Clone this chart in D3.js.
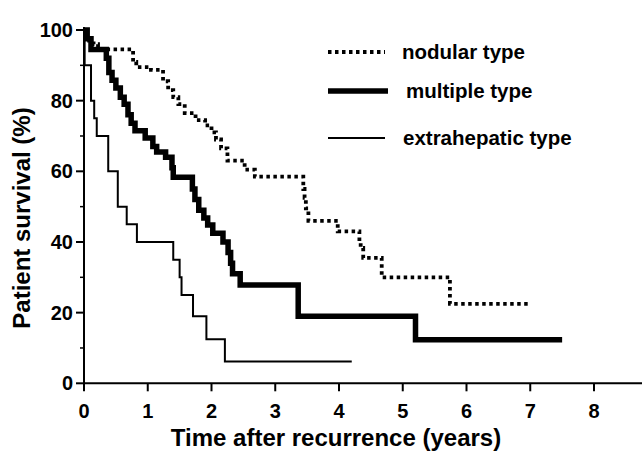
<!DOCTYPE html>
<html>
<head>
<meta charset="utf-8">
<script src="https://cdn.jsdelivr.net/npm/d3@7"></script>
<style>
  body { margin: 0; background: #fff; }
  svg { display: block; font-family: "Liberation Sans", Arial, sans-serif; font-weight: bold; }
</style>
</head>
<body>
<svg id="chart"></svg>
<script>
// Kaplan-Meier steps: time (years) of each drop and survival (%) after it
const nodularTimes = [0.02, 0.08, 0.15, 0.22, 0.77, 0.82, 1.05, 1.24, 1.32, 1.4, 1.48, 1.58, 1.75, 1.9, 2.0, 2.07, 2.15, 2.25, 2.52, 2.68, 3.44, 3.46, 3.48, 3.52, 3.98, 4.32, 4.34, 4.38, 4.67, 5.74];
const nodularSurvival = [98, 97, 96, 94.5, 91, 89.5, 88.7, 85.5, 83, 81, 79, 76.5, 74.5, 73, 71, 69, 66.5, 63, 60.5, 58.5, 55, 52.5, 49.5, 46, 43, 40, 38.3, 35.5, 30, 22.5];
const nodularEnd = 6.97;

const multipleTimes = [0.05, 0.11, 0.35, 0.39, 0.44, 0.5, 0.57, 0.63, 0.69, 0.74, 0.8, 0.96, 1.08, 1.14, 1.28, 1.38, 1.4, 1.7, 1.74, 1.8, 1.88, 1.94, 2.02, 2.18, 2.26, 2.3, 2.33, 2.45, 3.36, 5.2];
const multipleSurvival = [97.5, 94.5, 92, 88, 85.8, 83.6, 81, 79, 76, 73.6, 71.5, 69.4, 67, 65.5, 64, 61, 58.3, 55, 52, 49, 46.8, 44.8, 42.5, 40, 37, 34, 31, 27.8, 19, 12.3];
const multipleEnd = 7.5;

const extraTimes = [0.01, 0.11, 0.16, 0.2, 0.38, 0.53, 0.67, 0.83, 1.4, 1.5, 1.53, 1.71, 1.92, 2.21];
const extraSurvival = [90, 80, 75, 70, 60, 50, 45, 40, 35, 30, 25, 19, 12.5, 6.2];
const extraEnd = 4.2;

const xTicks = [0, 1, 2, 3, 4, 5, 6, 7, 8];
const yTicks = [0, 20, 40, 60, 80, 100];
const yMinorTicks = [10, 30, 50, 70, 90];

const seriesLabels = ['nodular type', 'multiple type', 'extrahepatic type'];

const width = 642;
const height = 455;

const svg = d3.select('#chart')
  .attr('width', width)
  .attr('height', height);

const x = d3.scaleLinear().domain([0, 8]).range([84, 594]);
const y = d3.scaleLinear().domain([0, 100]).range([383.3, 30]);

const toSteps = (times, values, end) => {
  const pts = [[0, 100]];
  times.forEach((t, i) => pts.push([t, values[i]]));
  pts.push([end, values[values.length - 1]]);
  return pts;
};

const line = d3.line()
  .x(d => x(d[0]))
  .y(d => y(d[1]))
  .curve(d3.curveStepAfter);

const series = [{
  pts: toSteps(nodularTimes, nodularSurvival, nodularEnd),
  width: 3.8,
  dash: '3.5,3.5'
}, {
  pts: toSteps(multipleTimes, multipleSurvival, multipleEnd),
  width: 5.5,
  dash: null
}, {
  pts: toSteps(extraTimes, extraSurvival, extraEnd),
  width: 2,
  dash: null
}];

// axes
const axisG = svg.append('g');
axisG.append('line')
  .attr('x1', x(0)).attr('x2', width)
  .attr('y1', y(0)).attr('y2', y(0))
  .attr('stroke', '#000').attr('stroke-width', 2);
axisG.append('line')
  .attr('x1', x(0)).attr('x2', x(0))
  .attr('y1', y(0) + 1).attr('y2', 27)
  .attr('stroke', '#000').attr('stroke-width', 2);

axisG.selectAll('.xtick')
  .data(xTicks)
  .enter().append('line')
  .attr('x1', d => x(d)).attr('x2', d => x(d))
  .attr('y1', y(0)).attr('y2', y(0) + 8)
  .attr('stroke', '#000').attr('stroke-width', 2);

axisG.selectAll('.xlabel')
  .data(xTicks)
  .enter().append('text')
  .attr('x', d => x(d))
  .attr('y', 418)
  .attr('text-anchor', 'middle')
  .attr('font-size', 20)
  .text(d => d);

axisG.selectAll('.ytick')
  .data(yTicks)
  .enter().append('line')
  .attr('x1', x(0) - 8).attr('x2', x(0))
  .attr('y1', d => y(d)).attr('y2', d => y(d))
  .attr('stroke', '#000').attr('stroke-width', 2);

axisG.selectAll('.yminor')
  .data(yMinorTicks)
  .enter().append('line')
  .attr('x1', x(0) - 4).attr('x2', x(0))
  .attr('y1', d => y(d)).attr('y2', d => y(d))
  .attr('stroke', '#000').attr('stroke-width', 1.5);

axisG.selectAll('.ylabel')
  .data(yTicks)
  .enter().append('text')
  .attr('x', 73)
  .attr('y', d => y(d) + 7)
  .attr('text-anchor', 'end')
  .attr('font-size', 20)
  .text(d => d);

svg.append('text')
  .attr('x', 336)
  .attr('y', 446)
  .attr('text-anchor', 'middle')
  .attr('font-size', 24)
  .text('Time after recurrence (years)');

svg.append('text')
  .attr('transform', 'translate(30, 218) rotate(-90)')
  .attr('text-anchor', 'middle')
  .attr('font-size', 24)
  .text('Patient survival (%)');

// curves
svg.append('g')
  .selectAll('path')
  .data(series)
  .enter().append('path')
  .attr('d', d => line(d.pts))
  .attr('fill', 'none')
  .attr('stroke', '#000')
  .attr('stroke-width', d => d.width)
  .attr('stroke-dasharray', d => d.dash);

// legend
const legendY = [52, 91, 138];
const legendTextX = [402, 406, 403];
const legend = svg.append('g');
series.forEach((s, i) => {
  legend.append('line')
    .attr('x1', 328).attr('x2', i === 1 ? 388 : 385)
    .attr('y1', legendY[i]).attr('y2', legendY[i])
    .attr('stroke', '#000')
    .attr('stroke-width', s.width)
    .attr('stroke-dasharray', s.dash);
  legend.append('text')
    .attr('x', legendTextX[i])
    .attr('y', legendY[i] + 7)
    .attr('font-size', 20.5)
    .text(seriesLabels[i]);
});
</script>
</body>
</html>
